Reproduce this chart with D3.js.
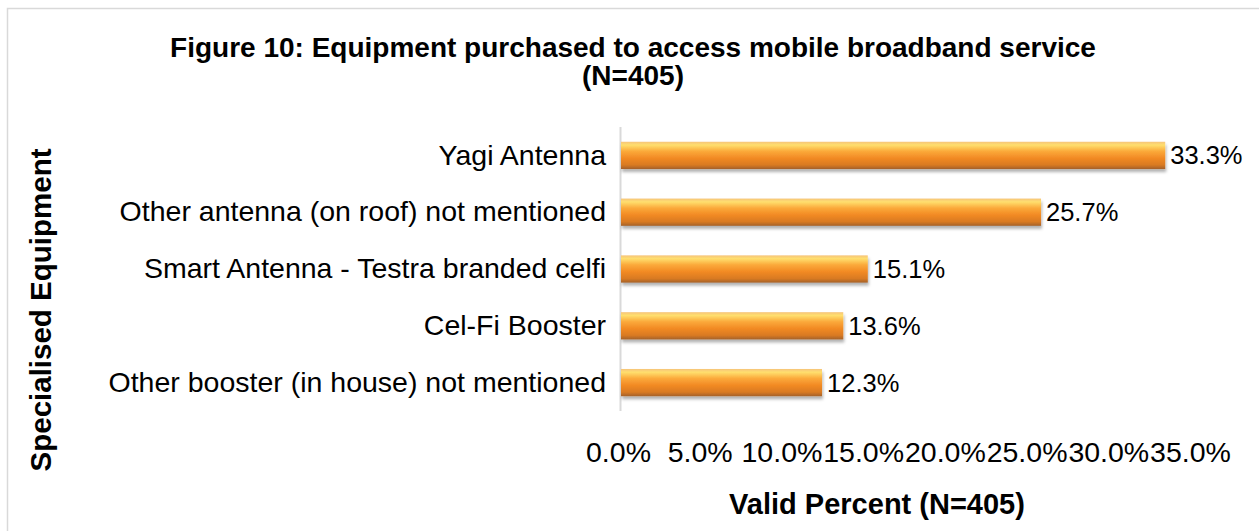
<!DOCTYPE html>
<html>
<head>
<meta charset="utf-8">
<script src="https://cdn.jsdelivr.net/npm/d3@7"></script>
<style>
  body { margin: 0; background: #fff; }
  svg text { font-family: "Liberation Sans", Arial, sans-serif; fill: #000; }
</style>
</head>
<body>
<script>
const categories = [
  'Yagi Antenna',
  'Other antenna (on roof) not mentioned',
  'Smart Antenna - Testra branded celfi',
  'Cel-Fi Booster',
  'Other booster (in house) not mentioned'
]
const values = [33.3, 25.7, 15.1, 13.6, 12.3]
const xTicks = [0, 5, 10, 15, 20, 25, 30, 35]

const w = 1259
const h = 531

const svg = d3.select('body')
    .append('svg')
    .attr('width', w)
    .attr('height', h)

// chart area border
svg.append('rect')
    .attr('x', 7.5)
    .attr('y', 8.5)
    .attr('width', 1260)
    .attr('height', 540)
    .attr('fill', 'none')
    .attr('stroke', '#d9d9d9')
    .attr('stroke-width', 1.5)

const defs = svg.append('defs')
const grad = defs.append('linearGradient')
    .attr('id', 'barGrad')
    .attr('x1', 0).attr('y1', 0).attr('x2', 0).attr('y2', 1)
const stops = [
    [0, '#f6c47a'], [0.12, '#ffdf6e'], [0.35, '#fba93a'],
    [0.6, '#f28a24'], [0.85, '#d97a22'], [1, '#a4612a']
]
stops.forEach(s => grad.append('stop').attr('offset', s[0]).attr('stop-color', s[1]))

const shadow = defs.append('filter')
    .attr('id', 'shadow')
    .attr('x', '-5%').attr('y', '-20%').attr('width', '110%').attr('height', '160%')
shadow.append('feDropShadow')
    .attr('dx', 1).attr('dy', 3).attr('stdDeviation', 1.8)
    .attr('flood-color', '#000').attr('flood-opacity', 0.3)

const xScale = d3.scaleLinear()
    .domain([0, 35])
    .range([621, 1193])

const yScale = d3.scaleBand()
    .domain(categories)
    .range([127, 411])
    .paddingInner(0.52)
    .paddingOuter(0.26)

// vertical axis line
svg.append('line')
    .attr('x1', 620.5).attr('x2', 620.5)
    .attr('y1', 127).attr('y2', 411)
    .attr('stroke', '#d9d9d9')
    .attr('stroke-width', 2)

svg.selectAll('rect.bar')
    .data(values)
    .enter()
    .append('rect')
    .attr('class', 'bar')
    .attr('x', xScale(0))
    .attr('y', (d, i) => yScale(categories[i]))
    .attr('width', d => xScale(d) - xScale(0))
    .attr('height', yScale.bandwidth())
    .attr('fill', 'url(#barGrad)')
    .attr('filter', 'url(#shadow)')

// value labels
svg.selectAll('text.val')
    .data(values)
    .enter()
    .append('text')
    .attr('class', 'val')
    .attr('x', d => xScale(d) + 5)
    .attr('y', (d, i) => yScale(categories[i]) + yScale.bandwidth() / 2)
    .attr('dy', '0.35em')
    .attr('font-size', 25.5)
    .text(d => d.toFixed(1) + '%')

// category labels
const yAxis = d3.axisLeft(yScale).tickSize(0).tickPadding(14)
const gy = svg.append('g')
    .attr('transform', 'translate(620,0)')
    .call(yAxis)
gy.select('.domain').remove()
gy.selectAll('text')
    .attr('font-size', 28.5)
    .attr('font-family', '"Liberation Sans", Arial, sans-serif')
    .attr('fill', '#000')

// x tick labels
const xAxis = d3.axisBottom(xScale)
    .tickValues(xTicks)
    .tickSize(0)
    .tickPadding(0)
    .tickFormat(d => d.toFixed(1) + '%')
const gx = svg.append('g')
    .attr('transform', 'translate(-3,442)')
    .call(xAxis)
gx.select('.domain').remove()
gx.selectAll('text')
    .attr('font-size', 28.5)
    .attr('font-family', '"Liberation Sans", Arial, sans-serif')
    .attr('fill', '#000')

// titles
svg.append('text')
    .attr('x', 633).attr('y', 57)
    .attr('text-anchor', 'middle')
    .attr('font-size', 28).attr('font-weight', 'bold')
    .text('Figure 10: Equipment purchased to access mobile broadband service')
svg.append('text')
    .attr('x', 633).attr('y', 85)
    .attr('text-anchor', 'middle')
    .attr('font-size', 28).attr('font-weight', 'bold')
    .text('(N=405)')

svg.append('text')
    .attr('x', 877).attr('y', 514)
    .attr('text-anchor', 'middle')
    .attr('font-size', 29).attr('font-weight', 'bold')
    .text('Valid Percent (N=405)')

svg.append('text')
    .attr('transform', 'translate(51,310) rotate(-90)')
    .attr('text-anchor', 'middle')
    .attr('font-size', 29.5).attr('font-weight', 'bold')
    .text('Specialised Equipment')
</script>
</body>
</html>
